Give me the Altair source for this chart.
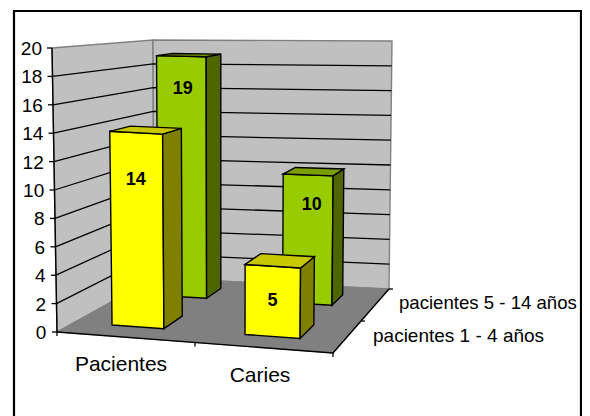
import altair as alt

categories = ["Pacientes", "Caries"]
series_names = ["pacientes 1 - 4 años", "pacientes 5 - 14 años"]
values_young = [14, 5]
values_old = [19, 10]
axis_ticks = [0, 2, 4, 6, 8, 10, 12, 14, 16, 18, 20]

# calibration of the oblique view (page pixels)
OX, OY = 8, 8
W, H = 574, 408
FLOOR = {"fl": (57, 332), "fr": (333, 353), "bl": (154, 278), "br": (389, 289)}
UP_X = {"fl": -0.25, "fr": 0.15, "bl": -0.05, "br": 0.15}
UP_Y = {"fl": 14.2, "fr": 14.5, "bl": 11.9, "br": 12.4}
U_FRONT = [(0.14, 0.333), (0.635, 0.84)]
U_BACK = [(0.13, 0.327), (0.635, 0.835)]
D_SPANS = [(0.18, 0.40), (0.71, 0.88)]


def bil(t, u, d):
    return (1 - d) * (t["fl"] * (1 - u) + t["fr"] * u) + d * (t["bl"] * (1 - u) + t["br"] * u)


def P(u, d, v=0.0):
    fx = bil({k: c[0] for k, c in FLOOR.items()}, u, d)
    fy = bil({k: c[1] for k, c in FLOOR.items()}, u, d)
    return [fx + v * bil(UP_X, u, d) - OX, fy - v * bil(UP_Y, u, d) - OY]


features = []


def poly(pts, fill, stroke="none", sw=0.0):
    features.append({"type": "Feature",
                     "geometry": {"type": "Polygon", "coordinates": [pts + [pts[0]]]},
                     "properties": {"fill": fill, "stroke": stroke, "sw": sw}})


def line(pts, stroke="#000000", sw=1.4):
    features.append({"type": "Feature",
                     "geometry": {"type": "LineString", "coordinates": pts},
                     "properties": {"fill": "none", "stroke": stroke, "sw": sw}})


def box(u0, u1, d0, d1, v, front, top, side):
    poly([P(u0, d0), P(u1, d0), P(u1, d0, v), P(u0, d0, v)], front, "#000000", 1.4)
    poly([P(u1, d0), P(u1, d1), P(u1, d1, v), P(u1, d0, v)], side, "#000000", 1.4)
    poly([P(u0, d0, v), P(u1, d0, v), P(u1, d1, v), P(u0, d1, v)], top, "#000000", 1.4)


TOP = axis_ticks[-1]
# walls
poly([P(0, 0), P(0, 1), P(0, 1, TOP), P(0, 0, TOP)], "#C0C0C0", "#808080", 1.4)
poly([P(0, 1), P(1, 1), P(1, 1, TOP), P(0, 1, TOP)], "#C0C0C0", "#808080", 1.4)
# gridlines
for v in axis_ticks[1:-1]:
    line([P(0, 0, v), P(0, 1, v), P(1, 1, v)], "#000000", 1.3)
# floor
poly([P(0, 0), P(1, 0), P(1, 1), P(0, 1)], "#808080", "#808080", 1.0)
line([P(0, 0, 0), P(1, 0), P(1, 1)], "#000000", 1.4)
# axes
line([P(0, 0, 0), P(0, 0, TOP)], "#000000", 1.4)
for v in axis_ticks:
    a = P(0, 0, v)
    line([[a[0] - 5, a[1]], a], "#000000", 1.3)
for u in (0, 0.5, 1):
    a = P(u, 0)
    line([a, [a[0], a[1] + 4]], "#000000", 1.3)
for d in (0.5, 1):
    a = P(1, d)
    line([a, [a[0] + 4, a[1]]], "#000000", 1.3)

# bars, back row first
for i in range(2):
    box(*U_BACK[i], *D_SPANS[1], values_old[i], "#99CC00", "#7A9E00", "#4D6600")
for i in range(2):
    box(*U_FRONT[i], *D_SPANS[0], values_young[i], "#FFFF00", "#C8C800", "#808000")

# outer frame, open at the bottom of the picture
FRAME_R = 581
line([[14 - OX, 416 - OY], [14 - OX, 11 - OY], [FRAME_R - OX, 11 - OY], [FRAME_R - OX, 416 - OY]], "#000000", 2.2)


def text_rows(rows):
    return alt.Data(values=[{"px": x - OX, "py": y - OY, "t": t} for x, y, t in rows])


shapes = alt.Chart(alt.Data(values=features)).mark_geoshape().encode(
    fill=alt.Fill("properties.fill:N", scale=None),
    stroke=alt.Stroke("properties.stroke:N", scale=None),
    strokeWidth=alt.StrokeWidth("properties.sw:Q", scale=None),
).project(type="identity", scale=1, translate=[0, 0])

x_enc = alt.X("px:Q", scale=alt.Scale(domain=[0, W], nice=False, zero=False), axis=None)
y_enc = alt.Y("py:Q", scale=alt.Scale(domain=[H, 0], nice=False, zero=False), axis=None)


def labels(rows, align, size, weight="normal"):
    return alt.Chart(text_rows(rows)).mark_text(
        align=align, baseline="middle", font="Liberation Sans", fontSize=size,
        fontWeight=weight, color="#000000",
    ).encode(x=x_enc, y=y_enc, text="t:N")


tick_rows = [(42 + 0.22 * (20 - v), P(0, 0, v)[1] + OY + 1, str(v)) for v in axis_ticks]
cat_rows = [(121, 365.2, categories[0]), (260, 376.2, categories[1])]
series_rows = [(373, 336, series_names[0])]
series_rows_2 = [(399, 303.3, series_names[1])]
value_rows = [
    (135.8, 179.6, str(values_young[0])),
    (182.7, 88.9, str(values_old[0])),
    (311.7, 204.6, str(values_old[1])),
    (272.5, 301.3, str(values_young[1])),
]

chart = alt.layer(
    shapes,
    labels(tick_rows, "right", 19),
    labels(cat_rows, "center", 21),
    labels(series_rows, "left", 19),
    labels(series_rows_2, "left", 18.6),
    labels(value_rows, "center", 18, "bold"),
).properties(
    width=W, height=H, padding=0,
    autosize=alt.AutoSizeParams(type="none"),
).configure_view(stroke=None)

chart.save("out.html", embed_options={"renderer": "svg", "actions": False})
